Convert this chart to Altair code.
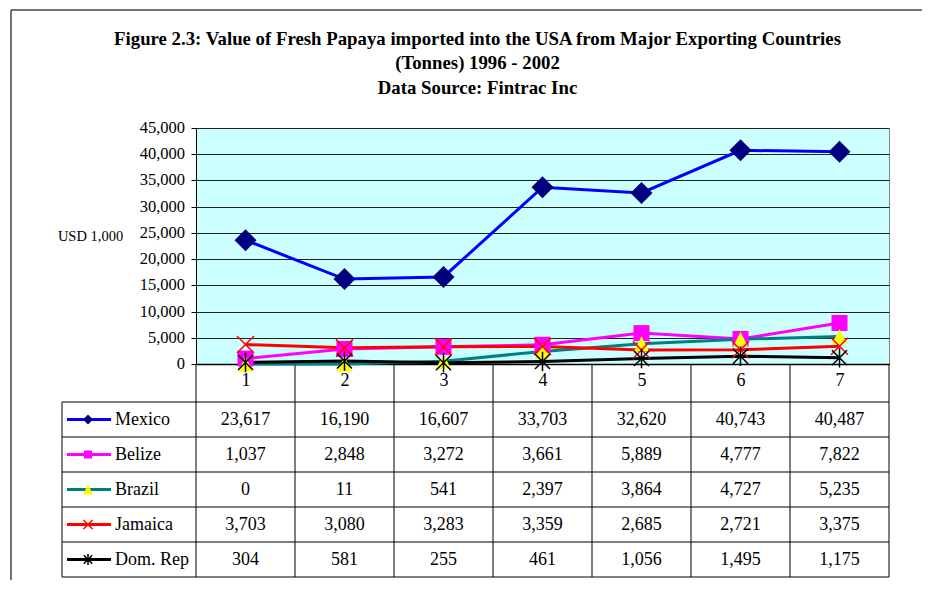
import altair as alt
import pandas as pd

# ---------------- data ----------------
years = ["1", "2", "3", "4", "5", "6", "7"]
countries = ["Mexico", "Belize", "Brazil", "Jamaica", "Dom. Rep"]
mexico = [23617, 16190, 16607, 33703, 32620, 40743, 40487]
belize = [1037, 2848, 3272, 3661, 5889, 4777, 7822]
brazil = [0, 11, 541, 2397, 3864, 4727, 5235]
jamaica = [3703, 3080, 3283, 3359, 2685, 2721, 3375]
domrep = [304, 581, 255, 461, 1056, 1495, 1175]
y_ticks = [0, 5000, 10000, 15000, 20000, 25000, 30000, 35000, 40000, 45000]
title_lines = [
    "Figure 2.3: Value of Fresh Papaya imported into the USA from Major Exporting Countries",
    "(Tonnes) 1996 - 2002",
    "Data Source: Fintrac Inc",
]
y_title = "USD 1,000"

series = {"Mexico": mexico, "Belize": belize, "Brazil": brazil,
          "Jamaica": jamaica, "Dom. Rep": domrep}

# ---------------- styles ----------------
SERIF = "Liberation Serif"
W, H = 693, 236
styles = {
    "Mexico":   dict(line="#0000FF", marker="#000080", shape="diamond", filled=True, size=484, lsize=100),
    "Belize":   dict(line="#FF00FF", marker="#FF00FF", shape="square", filled=True, size=256, lsize=64),
    "Brazil":   dict(line="#008080", marker="#FFFF00", shape="M0,-1L1,1L-1,1Z", filled=True, size=225, lsize=100),
    "Jamaica":  dict(line="#FF0000", marker="#FF0000", shape="M-1,-1L1,1M-1,1L1,-1", filled=False, size=289, lsize=81),
    "Dom. Rep": dict(line="#000000", marker="#000000", shape="M-1,-1L1,1M-1,1L1,-1M0,-1.3L0,1.3", filled=False, size=225, lsize=72),
}

rows = []
for r, c in enumerate(countries):
    for k, (yr, v) in enumerate(zip(years, series[c])):
        rows.append(dict(country=c, year=yr, value=v, col=k + 0.5, row=r + 0.5, label=f"{v:,}"))
df = pd.DataFrame(rows)
df_leg = pd.DataFrame({"country": countries, "row": [i + 0.5 for i in range(len(countries))]})
df_hb = pd.DataFrame({"b": list(range(len(countries) + 1))})
df_vb = pd.DataFrame({"b": list(range(len(years) + 1))})
df_yt = pd.DataFrame({"v": y_ticks, "t": [f"{v:,}" for v in y_ticks]})
one = pd.DataFrame({"a": [0]})


def XS():
    return alt.Scale(type="point", domain=years, padding=0.5)


def YS():
    return alt.Scale(domain=[0, 45000], nice=False, zero=True)


def COLS():
    return alt.Scale(domain=[0, len(years)], nice=False, zero=False)


def ROWS():
    return alt.Scale(domain=[0, len(countries)], range=[274, 449], nice=False, zero=False)


x_axis = alt.Axis(labelAngle=0, labelFont=SERIF, labelFontSize=18, labelColor="black",
                  labelPadding=7, ticks=False, domainColor="black", domainWidth=1.5,
                  grid=False, title=None)
y_axis = alt.Axis(values=y_ticks, labels=False, tickSize=5,
                  tickColor="black", domainColor="black", domainWidth=1, grid=True,
                  gridColor="#222222", gridWidth=1, title=y_title, titleAngle=0,
                  titleX=-106, titleY=108, titleAlign="center", titleBaseline="middle",
                  titleFont=SERIF, titleFontSize=14.5, titleFontWeight="normal",
                  titleColor="black")

layers = []

# outer frame
layers.append(alt.Chart(one).mark_rule(color="#444444", strokeWidth=1.5).encode(
    x=alt.value(-185), x2=alt.value(760), y=alt.value(-118)))
layers.append(alt.Chart(one).mark_rule(color="#444444", strokeWidth=1.5).encode(
    x=alt.value(-185), y=alt.value(-118), y2=alt.value(500)))

# titles
for i, t in enumerate(title_lines):
    layers.append(alt.Chart(one).mark_text(
        text=t, font=SERIF, fontSize=18.8, fontWeight="bold", align="center",
        baseline="alphabetic", color="black").encode(
        x=alt.value(281.5), y=alt.value([-83, -59, -34][i])))

# y tick labels
layers.append(alt.Chart(df_yt).mark_text(font=SERIF, fontSize=16.5, color="black",
                                         align="right", baseline="middle").encode(
    x=alt.value(-11), y=alt.Y("v:Q", scale=YS(), axis=None), text="t:N"))

# table grid
layers.append(alt.Chart(df_hb).mark_rule(color="black", strokeWidth=1).encode(
    y=alt.Y("b:Q", scale=ROWS(), axis=None), x=alt.value(-134), x2=alt.value(W)))
layers.append(alt.Chart(df_vb).mark_rule(color="black", strokeWidth=1).encode(
    x=alt.X("b:Q", scale=COLS(), axis=None), y=alt.value(H), y2=alt.value(449)))
layers.append(alt.Chart(one).mark_rule(color="black", strokeWidth=1).encode(
    x=alt.value(-134), y=alt.value(274), y2=alt.value(449)))

# table values
layers.append(alt.Chart(df).mark_text(font=SERIF, fontSize=18, color="black",
                                      align="center", baseline="middle").encode(
    x=alt.X("col:Q", scale=COLS(), axis=None),
    y=alt.Y("row:Q", scale=ROWS(), axis=None),
    text="label:N"))

# legend column
for c in countries:
    s = styles[c]
    d = df_leg[df_leg.country == c]
    layers.append(alt.Chart(d).mark_rule(color=s["line"], strokeWidth=3).encode(
        x=alt.value(-129), x2=alt.value(-85), y=alt.Y("row:Q", scale=ROWS(), axis=None)))
    layers.append(alt.Chart(d).mark_point(
        shape=s["shape"], filled=s["filled"], size=s["lsize"], color=s["marker"],
        strokeWidth=1.5, opacity=1).encode(
        x=alt.value(-108), y=alt.Y("row:Q", scale=ROWS(), axis=None)))
    layers.append(alt.Chart(d).mark_text(font=SERIF, fontSize=18, color="black",
                                         align="left", baseline="middle").encode(
        x=alt.value(-81), y=alt.Y("row:Q", scale=ROWS(), axis=None), text="country:N"))

# chart lines
for i, c in enumerate(countries):
    s = styles[c]
    d = df[df.country == c]
    layers.append(alt.Chart(d).mark_line(color=s["line"], strokeWidth=3).encode(
        x=alt.X("year:O", scale=XS(), axis=x_axis if i == 0 else None),
        y=alt.Y("value:Q", scale=YS(), axis=y_axis if i == 0 else None)))

# chart markers
for c in countries:
    s = styles[c]
    d = df[df.country == c]
    layers.append(alt.Chart(d).mark_point(
        shape=s["shape"], filled=s["filled"], size=s["size"], color=s["marker"],
        strokeWidth=1.5, opacity=1).encode(
        x=alt.X("year:O", scale=XS(), axis=None),
        y=alt.Y("value:Q", scale=YS(), axis=None)))

chart = alt.layer(*layers).resolve_scale(x="independent", y="independent").properties(
    width=W, height=H,
    autosize=alt.AutoSizeParams(type="none"),
    padding={"left": 188, "top": 120, "right": 33, "bottom": 216},
    background="white",
).configure_view(fill="#CCFFFF", stroke="#808080", strokeWidth=1)

chart.save("out.html", embed_options={"renderer": "svg", "actions": False})
